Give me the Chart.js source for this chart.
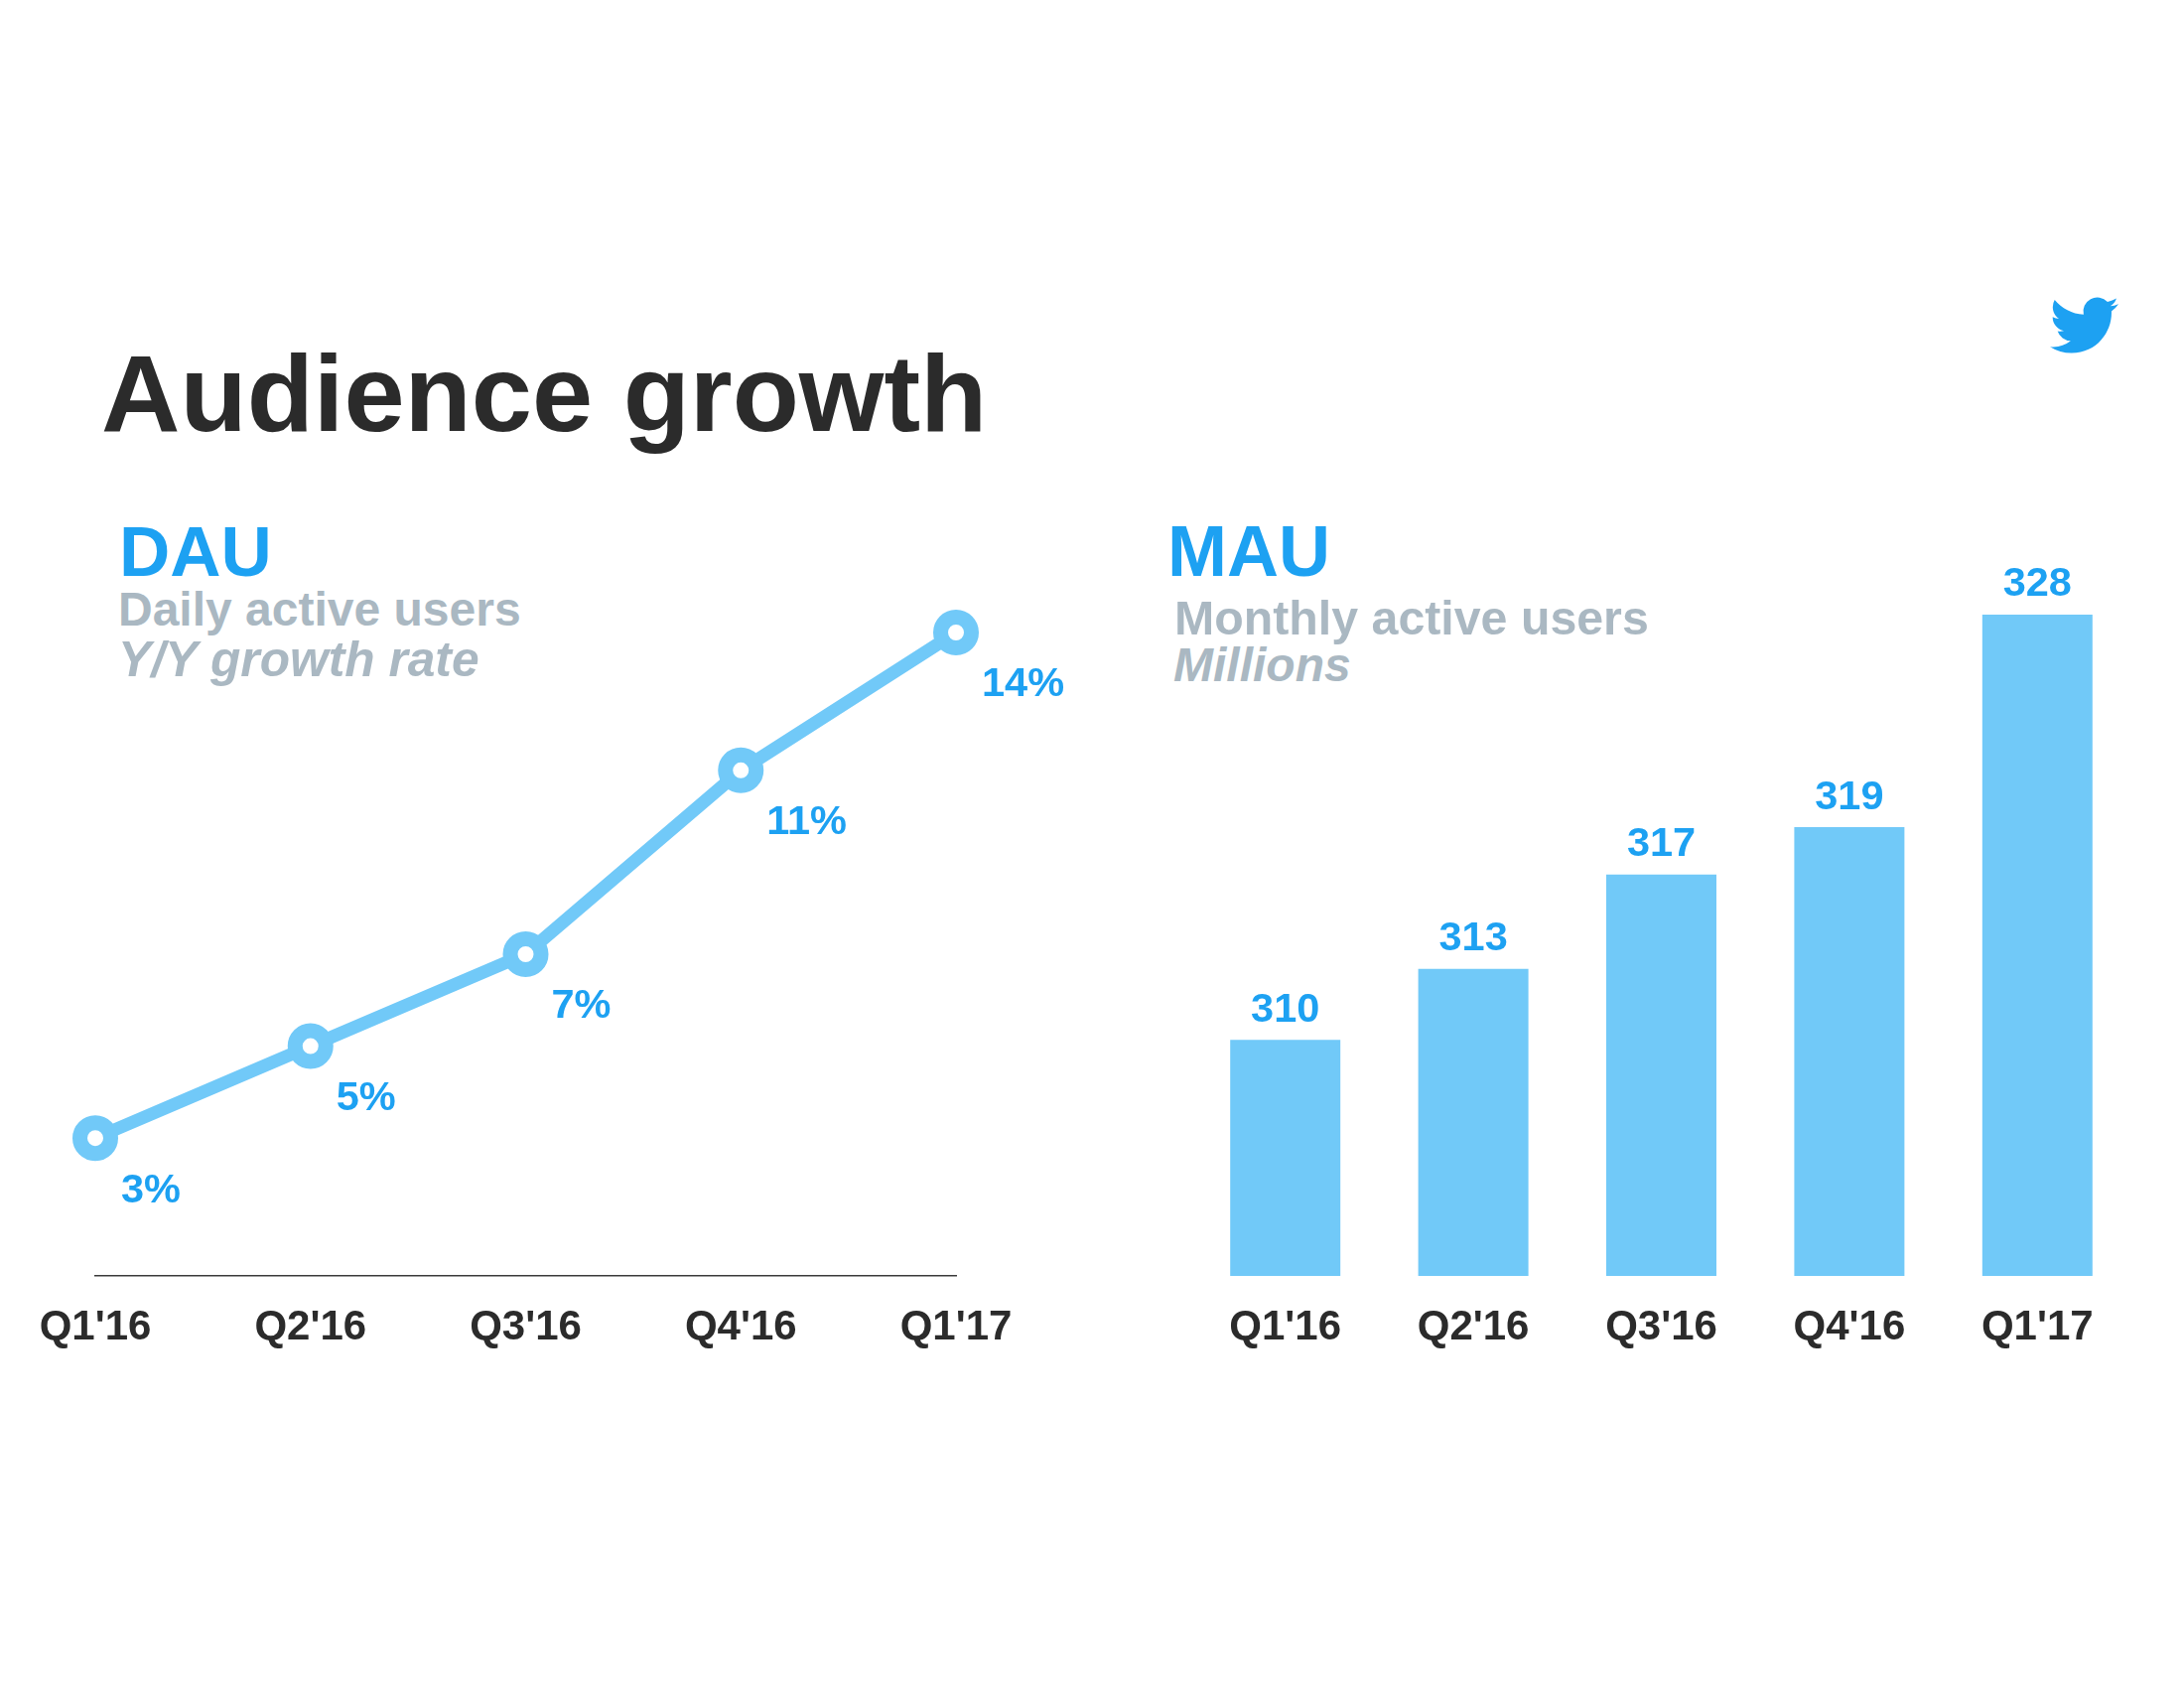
<!DOCTYPE html>
<html>
<head>
<meta charset="utf-8">
<script src="https://cdn.jsdelivr.net/npm/chart.js@4"></script>
<style>
    body { margin: 0; background: #fff; width: 2200px; height: 1700px; overflow: hidden; font-family: "Liberation Sans", sans-serif; font-weight: bold; }
    canvas, .txt, svg { position: absolute; }
    .txt { white-space: nowrap; }
    .head { font-size: 71px; color: #1DA1F2; }
    .sub { font-size: 48px; color: #AAB8C2; }
</style>
</head>
<body>
<div class="txt" style="left:102px;top:332px;font-size:110px;color:#2B2B2B">Audience growth</div>

<div class="txt head" style="left:120px;top:515px">DAU</div>
<div class="txt sub" style="left:119px;top:586px">Daily active users</div>
<div class="txt sub" style="left:119px;top:635px;font-style:italic;font-size:49.7px">Y/Y growth rate</div>

<div class="txt head" style="left:1176px;top:514px;font-size:72px">MAU</div>
<div class="txt sub" style="left:1183px;top:594px;font-size:48.3px">Monthly active users</div>
<div class="txt sub" style="left:1182px;top:642px;font-style:italic">Millions</div>

<svg style="left:2065px;top:293px" width="69" height="69" viewBox="0 0 24 24"><path fill="#1DA1F2" d="M23.953 4.57a10 10 0 01-2.825.775 4.958 4.958 0 002.163-2.723c-.951.555-2.005.959-3.127 1.184a4.92 4.92 0 00-8.384 4.482C7.69 8.095 4.067 6.13 1.64 3.162a4.822 4.822 0 00-.666 2.475c0 1.71.87 3.213 2.188 4.096a4.904 4.904 0 01-2.228-.616v.06a4.923 4.923 0 003.946 4.827 4.996 4.996 0 01-2.212.085 4.936 4.936 0 004.604 3.417 9.867 9.867 0 01-6.102 2.105c-.39 0-.779-.023-1.17-.067a13.995 13.995 0 007.557 2.209c9.053 0 13.998-7.496 13.998-13.985 0-.21 0-.42-.015-.63A9.935 9.935 0 0024 4.59z"/></svg>

<canvas id="dauChart" width="1100" height="1700" style="left:0;top:0"></canvas>
<canvas id="mauChart" width="1100" height="1700" style="left:1100px;top:0"></canvas>

<script>
const quarters = ["Q1'16", "Q2'16", "Q3'16", "Q4'16", "Q1'17"]
const dau = [3, 5, 7, 11, 14]
const mau = [310, 313, 317, 319, 328]

const blue = '#1DA1F2'
const lightBlue = '#71C9F8'
const dark = '#2B2B2B'
const font = 'Liberation Sans'

// draws the value next to each point / on top of each bar
const valueLabels = {
    id: 'valueLabels',
    afterDatasetsDraw(chart, args, opts) {
        const ctx = chart.ctx
        const points = chart.getDatasetMeta(0).data
        ctx.save()
        ctx.font = 'bold 41.5px "' + font + '"'
        ctx.fillStyle = blue
        ctx.textAlign = opts.align
        ctx.textBaseline = 'middle'
        points.forEach((p, i) => {
            const val = chart.data.datasets[0].data[i]
            ctx.fillText(val + opts.suffix, p.x + opts.dx, p.y + opts.dy)
        })
        ctx.restore()
    }
}

function xAxis(showLine) {
    return {
        grid: { display: false },
        border: { display: showLine, color: '#3A3A3A', width: 1.5 },
        ticks: {
            color: dark,
            font: { family: font, size: 42, weight: 'bold' },
            autoSkip: false,
            maxRotation: 0,
            padding: 19
        },
        afterFit(scale) { scale.height = 415 }
    }
}

new Chart(document.getElementById('dauChart'), {
    type: 'line',
    data: {
        labels: quarters,
        datasets: [{
            data: dau,
            borderColor: lightBlue,
            borderWidth: 13,
            tension: 0,
            clip: false,
            pointRadius: 15.5,
            pointBorderWidth: 15,
            pointBorderColor: lightBlue,
            pointBackgroundColor: '#fff'
        }]
    },
    options: {
        responsive: false,
        animation: false,
        layout: { padding: { left: 96, right: 137, top: 637, bottom: 0 } },
        plugins: {
            legend: { display: false },
            tooltip: { enabled: false },
            valueLabels: { align: 'left', suffix: '%', dx: 26, dy: 53 }
        },
        scales: {
            x: Object.assign(xAxis(true), { offset: false }),
            y: { display: false, min: 0, max: 14 }
        }
    },
    plugins: [valueLabels]
})

new Chart(document.getElementById('mauChart'), {
    type: 'bar',
    data: {
        labels: quarters,
        datasets: [{
            data: mau,
            backgroundColor: lightBlue,
            barPercentage: 0.586,
            categoryPercentage: 1
        }]
    },
    options: {
        responsive: false,
        animation: false,
        layout: { padding: { left: 100, right: 53, top: 619, bottom: 0 } },
        plugins: {
            legend: { display: false },
            tooltip: { enabled: false },
            valueLabels: { align: 'center', suffix: '', dx: 0, dy: -30 }
        },
        scales: {
            x: xAxis(false),
            y: { display: false, min: 300, max: 328 }
        }
    },
    plugins: [valueLabels]
})
</script>
</body>
</html>
